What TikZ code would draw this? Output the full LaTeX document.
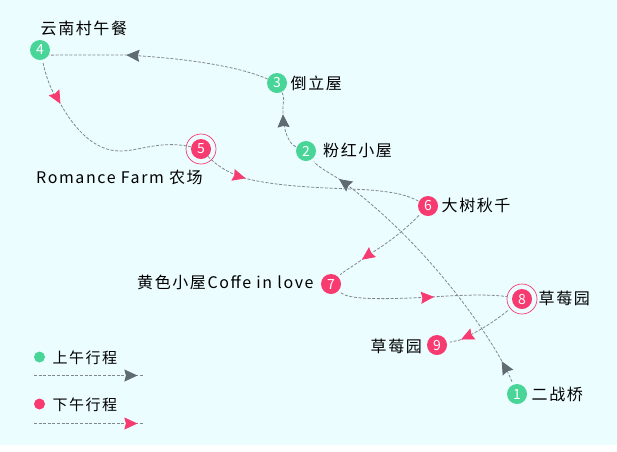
\documentclass[tikz,border=0pt]{standalone}
\usepackage{fontspec}
\setmainfont[LetterSpace=10]{Noto Sans CJK SC}
\usetikzlibrary{arrows.meta,decorations.markings}
\definecolor{bgc}{HTML}{ECFDFF}
\definecolor{greenc}{HTML}{48D597}
\definecolor{redc}{HTML}{F73B70}
\definecolor{grayc}{HTML}{5F6B70}
\definecolor{linec}{HTML}{80898C}
\tikzset{
  x=1pt,y=-1pt,
  stop/.style={circle,inner sep=0pt,minimum size=20pt,text=white,font=\fontsize{14}{14}\selectfont},
  am/.style={stop,fill=greenc},
  pm/.style={stop,fill=redc},
  ring/.style={circle,draw=redc,line width=.7pt,minimum size=30pt,inner sep=0pt},
  dot/.style={circle,inner sep=0pt,minimum size=11pt},
  lab/.style={anchor=west,inner sep=0pt,text=black,font=\fontsize{16}{16}\selectfont},
  route/.style={draw=linec,line width=.8pt,dash pattern=on 3pt off 1.6pt},
  gaps/.style={shorten <=3pt,shorten >=3pt},
  gtip/.style={postaction={decorate,decoration={markings,mark=at position #1 with {\arrow[grayc]{Stealth[length=13pt,width=12pt,inset=1.5pt]}}}}},
  rtip/.style={postaction={decorate,decoration={markings,mark=at position #1 with {\arrow[redc]{Stealth[length=13pt,width=12pt,inset=1.5pt]}}}}},
}
\begin{document}
\begin{tikzpicture}
\useasboundingbox (0,0) rectangle (617,451);
\fill[white] (0,0) rectangle (617,451);
\fill[bgc] (0,0) rectangle (617,445);
% stops
\node[am] (n1) at (517,394) {1};
\node[am] (n2) at (306,151) {2};
\node[am] (n3) at (277,83) {3};
\node[am] (n4) at (40,50) {4};
\node[pm] (n5) at (201,149) {5};
\node[pm] (n6) at (428,206) {6};
\node[pm] (n7) at (331,284) {7};
\node[pm] (n8) at (522,299) {8};
\node[pm] (n9) at (437,345) {9};
\node[ring] (r5) at (n5) {};
\node[ring] (r8) at (n8) {};
% labels
\node[lab] (t1) at (531.5,394) {二战桥};
\node[lab] (t2) at (323,150) {粉红小屋};
\node[lab] (t3) at (290.5,83) {倒立屋};
\node[lab] (t4) at (40.5,28) {云南村午餐};
\node[lab] (t5) at (36,177) {Romance Farm 农场};
\node[lab] (t6) at (441.5,205) {大树秋千};
\node[lab] (t7) at (137,282) {黄色小屋Coffe in love};
\node[lab] (t8) at (538.5,298) {草莓园};
\node[lab] (t9) at (370.5,346) {草莓园};
% routes
\draw[route,gaps,gtip=.085,gtip=.89] (n1) .. controls (495,340) and (425,240) .. (339,179) .. controls (328,172) and (318,167) .. (n2);
\draw[route,shorten <=1pt,gtip=.62] (n2) .. controls (287,143) and (282,125) .. (283,105) .. controls (284,100) and (284,96) .. (n3);
\draw[route,gtip=.65] (n3) .. controls (235,65) and (180,58) .. (126,55) -- (n4.-30);
\draw[route,shorten <=3pt,rtip=.24] (n4) .. controls (47,80) and (52,93) .. (60,103) .. controls (75,130) and (95,151) .. (120,151) .. controls (140,151) and (160,140) .. (n5);
\draw[route,rtip=.2] (n5) .. controls (218,167) and (232,175) .. (248,179) .. controls (285,188) and (340,188) .. (370,190) .. controls (392,192) and (405,194) .. (n6);
\draw[route,gaps,rtip=.72] (n6) .. controls (395,240) and (375,250) .. (360,261) .. controls (350,268) and (343,272) .. (n7);
\draw[route,shorten <=3pt,rtip=.57] (n7) .. controls (348,299) and (375,300) .. (432,297) .. controls (460,295) and (490,294) .. (r8);
\draw[route,gaps,rtip=.8] (r8) .. controls (490,325) and (475,333) .. (460,340) -- (n9);
% legend
\node[dot,fill=greenc] (d1) at (39.5,357) {};
\node[lab,font=\fontsize{15}{15}\selectfont] (l1) at (52.5,358) {上午行程};
\coordinate (a1) at (34,375.5);
\coordinate (b1) at (144,375.5);
\draw[route,gtip=.94] (a1) -- (b1);
\node[dot,fill=redc] (d2) at (39.5,404) {};
\node[lab,font=\fontsize{15}{15}\selectfont] (l2) at (52.5,405) {下午行程};
\coordinate (a2) at (34,423.5);
\coordinate (b2) at (144,423.5);
\draw[route,rtip=.94] (a2) -- (b2);
\end{tikzpicture}
\end{document}
